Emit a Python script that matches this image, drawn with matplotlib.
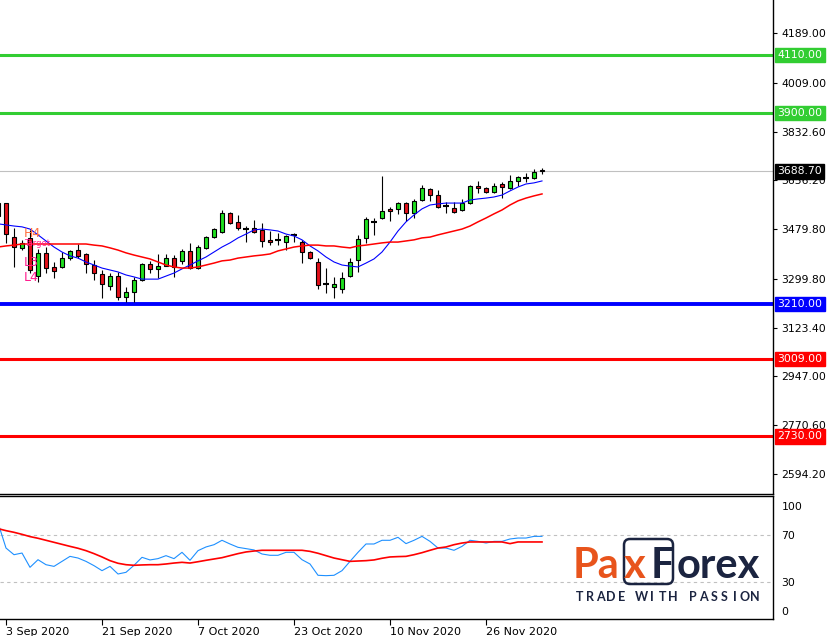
import numpy as np
import matplotlib.pyplot as plt
import matplotlib.transforms as mtransforms
from matplotlib.patches import FancyBboxPatch

plt.rcParams['font.family'] = ['DejaVu Sans']

# daily bars, the first one is cut by the left edge of the chart
opens = [3528, 3574, 3451, 3412, 3448, 3310, 3393, 3343, 3343, 3375, 3404,
         3390, 3350, 3318, 3274, 3310, 3234, 3252, 3296, 3354, 3336,
         3346, 3375, 3365, 3401, 3339, 3412, 3451, 3469, 3538, 3506,
         3482, 3484, 3477, 3440, 3439, 3433, 3457, 3433, 3397, 3361,
         3283, 3271, 3263, 3310, 3368, 3448, 3504, 3520, 3553, 3553,
         3574, 3538, 3585, 3625, 3603, 3562, 3556, 3549, 3574, 3636,
         3628, 3614, 3643, 3628, 3654, 3666, 3665, 3694]
highs = [3578, 3575, 3484, 3440, 3477, 3408, 3415, 3361, 3397, 3404, 3426,
         3393, 3368, 3332, 3321, 3325, 3270, 3307, 3357, 3365, 3390,
         3390, 3386, 3408, 3430, 3422, 3455, 3484, 3549, 3542, 3531,
         3491, 3513, 3502, 3473, 3466, 3458, 3466, 3440, 3401, 3375,
         3339, 3307, 3325, 3375, 3459, 3524, 3520, 3672, 3560, 3578,
         3578, 3589, 3639, 3628, 3621, 3578, 3578, 3589, 3639, 3654,
         3632, 3647, 3650, 3675, 3672, 3683, 3697, 3701]
lows = [3524, 3430, 3343, 3404, 3321, 3289, 3321, 3303, 3339, 3368, 3375,
        3321, 3296, 3231, 3260, 3223, 3216, 3216, 3292, 3321, 3303,
        3346, 3307, 3354, 3336, 3336, 3408, 3448, 3466, 3498, 3477,
        3433, 3466, 3415, 3422, 3422, 3404, 3433, 3357, 3372, 3263,
        3249, 3231, 3249, 3307, 3325, 3430, 3459, 3516, 3509, 3535,
        3509, 3520, 3582, 3582, 3556, 3538, 3538, 3545, 3571, 3610,
        3610, 3610, 3592, 3625, 3636, 3650, 3661, 3679]
closes = [3574, 3462, 3415, 3430, 3332, 3393, 3339, 3328, 3375, 3401, 3383,
          3354, 3321, 3281, 3310, 3234, 3252, 3296, 3354, 3336, 3346,
          3375, 3343, 3401, 3339, 3415, 3451, 3480, 3538, 3502, 3484,
          3482, 3469, 3437, 3433, 3439, 3455, 3457, 3397, 3375, 3278,
          3283, 3281, 3303, 3361, 3444, 3516, 3504, 3545, 3545, 3574,
          3538, 3582, 3628, 3603, 3560, 3562, 3542, 3574, 3636, 3628,
          3614, 3636, 3632, 3654, 3668, 3666, 3686, 3688.7]

# moving averages on the price window
ma_fast = [3499, 3495, 3491, 3488, 3480, 3459, 3437, 3415, 3397, 3383, 3375,
           3361, 3350, 3339, 3332, 3325, 3314, 3307, 3299, 3299, 3299,
           3310, 3321, 3336, 3350, 3365, 3379, 3397, 3415, 3430, 3448,
           3462, 3477, 3480, 3477, 3473, 3462, 3455, 3441, 3419, 3401,
           3379, 3361, 3350, 3346, 3343, 3357, 3372, 3397, 3433, 3473,
           3506, 3531, 3553, 3567, 3571, 3574, 3574, 3574, 3585, 3589,
           3592, 3596, 3603, 3618, 3632, 3643, 3647, 3654]
ma_slow = [3415, 3419, 3422, 3426, 3426, 3426, 3426, 3426, 3426, 3426, 3426,
           3426, 3422, 3419, 3412, 3404, 3394, 3386, 3379, 3372, 3361,
           3350, 3343, 3339, 3339, 3343, 3350, 3357, 3365, 3368, 3375,
           3379, 3383, 3386, 3390, 3401, 3408, 3415, 3419, 3422, 3422,
           3419, 3419, 3415, 3412, 3419, 3422, 3426, 3430, 3433, 3433,
           3437, 3441, 3448, 3451, 3459, 3466, 3473, 3480, 3491, 3506,
           3520, 3535, 3549, 3567, 3582, 3592, 3600, 3607]

# oscillator window
osc_main = [80, 58.8, 53.2, 54.6, 42.6, 49.0, 44.8, 43.4, 47.6, 51.8, 50.4,
            47.6, 44.0, 39.8, 43.4, 37.0, 38.4, 44.3, 51.0, 48.8, 49.9,
            52.4, 49.9, 55.2, 48.5, 56.6, 59.7, 61.6, 65.3, 62.2, 59.4,
            58.3, 57.2, 53.8, 52.7, 52.7, 55.2, 55.2, 49.0, 45.4, 35.9,
            35.6, 35.9, 39.8, 47.6, 55.2, 62.2, 62.2, 65.3, 65.3, 67.8,
            62.5, 65.3, 68.6, 64.4, 58.8, 58.8, 56.9, 60.2, 65.3, 64.4,
            63.0, 64.4, 64.4, 66.4, 67.2, 67.2, 68.6, 68.6]
osc_signal = [75.1, 73.4, 72.0, 70.3, 68.4, 67.0, 65.3, 63.6, 61.9, 60.2, 58.6,
              56.6, 54.1, 51.3, 48.2, 46.0, 44.8, 44.3, 44.6, 44.8, 44.8,
              45.4, 46.2, 46.8, 46.2, 47.3, 48.5, 49.6, 50.7, 52.4, 54.1,
              55.5, 56.3, 56.9, 56.9, 56.9, 56.9, 56.9, 56.9, 56.0, 54.4,
              52.4, 50.4, 49.0, 47.6, 47.9, 48.2, 48.8, 50.2, 51.3, 51.6,
              51.8, 53.2, 54.9, 56.9, 58.8, 59.7, 61.6, 63.0, 63.9, 63.9,
              63.9, 63.9, 63.9, 62.5, 63.9, 63.9, 63.9, 63.9]

levels = [4110.00, 3900.00, 3210.00, 3009.00, 2730.00]
level_colors = ['#32cd32', '#32cd32', '#0000ff', '#ff0000', '#ff0000']
last_price = 3688.70

price_ticks = [4189.00, 4009.00, 3832.60, 3656.20, 3479.80, 3299.80,
               3123.40, 2947.00, 2770.60, 2594.20]
osc_ticks = [100, 70, 30, 0]
date_idx = [1, 13, 25, 37, 49, 61]
date_labels = ['3 Sep 2020', '21 Sep 2020', '7 Oct 2020', '23 Oct 2020',
               '10 Nov 2020', '26 Nov 2020']

pivot_labels = ['H4', 'Target', 'L3', 'L4']
pivot_prices = [3464, 3428, 3360, 3304]

W, H = 838, 636
fig = plt.figure(figsize=(W / 100, H / 100), dpi=100)
fig.patch.set_facecolor('white')


def px_rect(x0, y0, x1, y1):
    # pixel box (top-left origin) -> figure fraction
    return [x0 / W, 1 - y1 / H, (x1 - x0) / W, (y1 - y0) / H]


ax = fig.add_axes(px_rect(0, 0, 773, 494))
ax2 = fig.add_axes(px_rect(0, 496, 773, 619))

x = np.arange(len(opens))
o = np.array(opens, dtype=float)
c = np.array(closes, dtype=float)
up = c > o
down = c < o
flat = c == o

# --- price window
ax.axhline(last_price, color='#c0c0c0', lw=0.8, zorder=1)
for lv, col in zip(levels, level_colors):
    ax.axhline(lv, color=col, lw=2.8 if col == '#0000ff' else 2.2, zorder=2)

ax.vlines(x, lows, highs, color='black', lw=0.8, zorder=3)
ax.bar(x[up], (c - o)[up], bottom=o[up], width=0.56, color='#1fe01f',
       edgecolor='black', lw=0.8, zorder=4)
ax.bar(x[down], (o - c)[down], bottom=c[down], width=0.56, color='#e3101a',
       edgecolor='black', lw=0.8, zorder=4)
ax.hlines(o[flat], x[flat] - 0.32, x[flat] + 0.32, color='black', lw=1.5, zorder=4)

ax.plot(x, ma_fast, color='#0000ff', lw=0.8, zorder=5)
ax.plot(x, ma_slow, color='#ff0000', lw=1.1, zorder=5)

for lab, pr in zip(pivot_labels, pivot_prices):
    small = lab == 'Target'
    ax.text(3.2, pr, lab, color='#ff7040' if lab == 'H4' else '#ff1f8f',
            fontsize=6 if small else 9, va='center', ha='left', zorder=6)

ax.set_xlim(0.25, 96.875)
ax.set_ylim(2522.0, 4308.3)
ax.yaxis.tick_right()
ax.set_yticks(price_ticks)
ax.set_yticklabels([f'{t:.2f}' for t in price_ticks])
ax.tick_params(axis='y', direction='out', length=3, width=0.8, labelsize=7.8, pad=3)
ax.tick_params(axis='x', bottom=False, labelbottom=False)
for side in ['left', 'top']:
    ax.spines[side].set_visible(False)
ax.spines['right'].set_linewidth(1.0)
ax.spines['bottom'].set_linewidth(1.0)

for lv, col in zip(levels, level_colors):
    ax.annotate(f'{lv:.2f}', xy=(1, lv), xycoords=('axes fraction', 'data'),
                xytext=(3.2, 0), textcoords='offset points', ha='left', va='center',
                fontsize=7.8, color='white', annotation_clip=False,
                bbox=dict(boxstyle='square,pad=0.2', fc=col, ec=col))
ax.annotate(f'{last_price:.2f}', xy=(1, last_price), xycoords=('axes fraction', 'data'),
            xytext=(3.2, 0), textcoords='offset points', ha='left', va='center',
            fontsize=7.8, color='white', annotation_clip=False,
            bbox=dict(boxstyle='square,pad=0.2', fc='black', ec='black'))

# --- oscillator window
ax2.axhline(70, color='#c0c0c0', ls=(0, (3, 3)), lw=0.8)
ax2.axhline(30, color='#c0c0c0', ls=(0, (3, 3)), lw=0.8)
ax2.plot(x, osc_main, color='#1e90ff', lw=0.8)
ax2.plot(x, osc_signal, color='#ff0000', lw=1.2)
ax2.set_xlim(0.25, 96.875)
ax2.set_ylim(-0.8, 102.5)
ax2.yaxis.tick_right()
ax2.set_yticks(osc_ticks)
ax2.set_yticklabels([str(t) for t in osc_ticks])
ax2.tick_params(axis='y', direction='out', length=0, labelsize=7.8, pad=6)
for lab, t in zip(ax2.get_yticklabels(), osc_ticks):
    if t == 100:
        lab.set_transform(lab.get_transform() +
                          mtransforms.ScaledTranslation(0, -0.07, fig.dpi_scale_trans))
    elif t == 0:
        lab.set_transform(lab.get_transform() +
                          mtransforms.ScaledTranslation(0, 0.07, fig.dpi_scale_trans))
ax2.set_xticks(date_idx)
ax2.set_xticklabels(date_labels, ha='left')
ax2.tick_params(axis='x', direction='out', length=4, width=0.8, labelsize=8, pad=2)
ax2.spines['left'].set_visible(False)
for side in ['top', 'right', 'bottom']:
    ax2.spines[side].set_linewidth(1.0)

# --- watermark logo, drawn in pixel space
la = fig.add_axes([0, 0, 1, 1], zorder=10)
la.set_xlim(0, W)
la.set_ylim(H, 0)
la.axis('off')
la.patch.set_visible(False)

navy = '#1b2440'
orange = '#e8541c'
la.add_patch(FancyBboxPatch((624, 539), 49, 45, boxstyle='round,pad=0,rounding_size=6',
                            fc='none', ec=navy, lw=1.8))
logo_font = dict(fontsize=30, fontweight='bold', family='Lato', va='baseline', ha='left')
la.text(573, 578, 'Pa', color=orange, **logo_font)
la.text(624, 578, 'x', color=orange, **logo_font)
la.text(651, 578, 'F', color=navy, **logo_font)
la.text(677, 578, 'orex', color=navy, **logo_font)

# letter-spaced tagline: one character per fixed-width slot
tagline = 'TRADE WITH PASSION'
for i, ch in enumerate(tagline):
    la.text(580 + i * 10.3, 597, ch, color=navy, fontsize=9, fontweight='bold',
            family='Lato', va='center', ha='center')

fig.savefig('out.png', dpi=100, facecolor='white')
